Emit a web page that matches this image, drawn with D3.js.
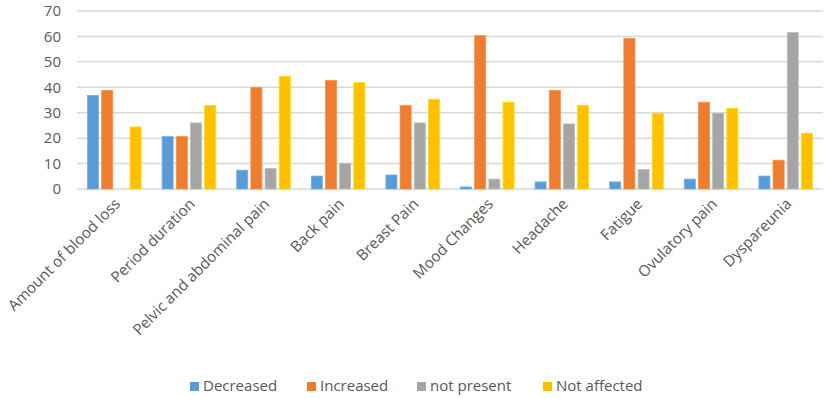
<!DOCTYPE html>
<html><head><meta charset="utf-8">
<script src="https://cdn.jsdelivr.net/npm/d3@7"></script>
<style>body{margin:0;background:#fff}svg{display:block}</style>
</head><body><svg id="c" width="829" height="399"></svg>
<script>
const categories = ["Amount of blood loss","Period duration","Pelvic and abdominal pain","Back pain","Breast Pain","Mood Changes","Headache","Fatigue","Ovulatory pain","Dyspareunia"];
const seriesNames = ["Decreased","Increased","not present","Not affected"];
const decreased   = [36.8, 20.6, 7.4, 5.1, 5.5, 0.8, 2.8, 2.8, 3.9, 5.1];
const increased   = [38.8, 20.6, 39.9, 42.7, 32.9, 60.3, 38.8, 59.2, 34.1, 11.3];
const notPresent  = [0, 26.0, 8.1, 10.1, 26.0, 3.9, 25.6, 7.7, 29.8, 61.6];
const notAffected = [24.4, 32.9, 44.2, 41.8, 35.3, 34.1, 32.9, 29.8, 31.7, 21.9];
const yTicks = [0,10,20,30,40,50,60,70];
const colors = ["#5B9BD5","#ED7D31","#A5A5A5","#FFC000"];
const seriesData = [decreased, increased, notPresent, notAffected];

(function(){
const svg = d3.select("#c");
const font = "'Open Sans', sans-serif";
const pl = 77, pr = 823, pt = 11, pb = 189;
const x = d3.scaleBand().domain(categories).range([pl, pr]).paddingInner(0).paddingOuter(0);
const y = d3.scaleLinear().domain([0,70]).range([pb, pt]);
const sub = d3.scaleBand().domain(d3.range(4)).range([0, 53.6]).paddingInner(0.22);

svg.append("g").selectAll("line").data(yTicks).join("line")
  .attr("x1", pl).attr("x2", pr)
  .attr("y1", d => y(d)).attr("y2", d => y(d))
  .attr("stroke", "#d9d9d9").attr("stroke-width", 1.5);

const yAxis = d3.axisLeft(y).tickValues(yTicks).tickSize(0).tickPadding(0);
const ya = svg.append("g").attr("transform", `translate(${pl-16},0)`).call(yAxis);
ya.select(".domain").remove();
ya.selectAll("text").attr("font-family", font).attr("font-size", 15).attr("fill", "#595959");

const off = (x.bandwidth() - 53.6)/2;
seriesData.forEach((vals, si) => {
  svg.append("g").selectAll("rect").data(vals).join("rect")
    .attr("x", (d,i) => x(categories[i]) + off + sub(si))
    .attr("width", sub.bandwidth())
    .attr("y", d => y(d))
    .attr("height", d => y(0) - y(d))
    .attr("fill", colors[si])
    .attr("stroke", d3.color(colors[si]).brighter(0.4))
    .attr("stroke-width", 0.8);
});

const xg = svg.append("g");
categories.forEach(c => {
  const cx = x(c) + x.bandwidth()/2 + 4;
  xg.append("text")
    .attr("transform", `translate(${cx},${pb+13}) rotate(-45)`)
    .attr("text-anchor", "end")
    .attr("dominant-baseline", "middle")
    .attr("font-family", font).attr("font-size", 15.2).attr("fill", "#595959")
    .text(c);
});

const legX = [190, 307, 417, 543];
const lg = svg.append("g");
seriesNames.forEach((n, i) => {
  lg.append("rect").attr("x", legX[i]).attr("y", 382).attr("width", 9).attr("height", 9).attr("fill", colors[i]);
  lg.append("text").attr("x", legX[i] + 13).attr("y", 387).attr("dominant-baseline", "middle")
    .attr("font-family", font).attr("font-size", 15).attr("fill", "#595959").text(n);
});
})();
</script></body></html>
